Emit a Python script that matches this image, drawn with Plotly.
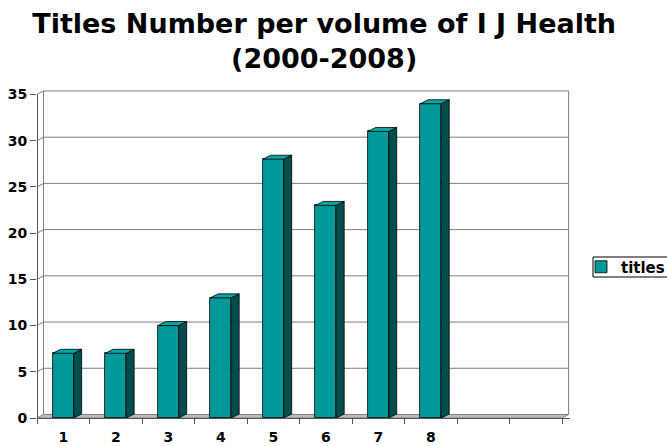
import plotly.graph_objects as go

# ---- data ----
volumes = [1, 2, 3, 4, 5, 6, 7, 8]
titles = [7, 7, 10, 13, 28, 23, 31, 34]
x_labels = ["1", "2", "3", "4", "5", "6", "7", "8"]
n_slots = 10                      # category slots on the axis (9 and 10 empty)
y_ticks = [0, 5, 10, 15, 20, 25, 30, 35]
series_name = "titles"
title_text = "Titles Number per volume of I J Health<br>(2000-2008)"

# ---- style / geometry ----
FONT = "DejaVu Sans"
TEAL = "#009999"
TEAL_TOP = "#00A5A5"
TEAL_SIDE = "#004D4D"
GRID = "#7f7f7f"
bar_w = 0.4
dx_bar, dy_bar = 0.15, 0.43       # bar depth in data units
dx_wall, dy_wall = 0.124, 0.38    # back wall offset in data units
x_min, x_max = 0.5, n_slots + 0.65
y_max = 35.7
W, H = 667, 446
ML, MT, MB = 37, 88, 28
plot_w = round((x_max - x_min) * 52.5)
MR = W - ML - plot_w
plot_h = H - MT - MB

fig = go.Figure()

# front faces
fig.add_trace(go.Bar(
    x=volumes, y=titles, width=bar_w, name=series_name,
    marker=dict(color=TEAL, line=dict(color="black", width=0.8)),
    showlegend=True,
))

# side and top faces (3D effect), derived from the data
for xv, v in zip(volumes, titles):
    r = xv + bar_w / 2
    l = xv - bar_w / 2
    fig.add_trace(go.Scatter(
        x=[r, r + dx_bar, r + dx_bar, r, r],
        y=[0, dy_bar, v + dy_bar, v, 0],
        fill="toself", fillcolor=TEAL_SIDE, mode="lines",
        line=dict(color="black", width=0.8), showlegend=False, hoverinfo="skip",
    ))
    fig.add_trace(go.Scatter(
        x=[l, l + dx_bar, r + dx_bar, r, l],
        y=[v, v + dy_bar, v + dy_bar, v, v],
        fill="toself", fillcolor=TEAL_TOP, mode="lines",
        line=dict(color="black", width=0.8), showlegend=False, hoverinfo="skip",
    ))

shapes = []
x0w, x1w = 0.5 + dx_wall, n_slots + 0.5 + dx_wall
# floor
shapes.append(dict(type="path", xref="x", yref="y", layer="below",
                   path=f"M0.5,0 L{n_slots + 0.5},0 L{x1w},{dy_wall} L{x0w},{dy_wall} Z",
                   fillcolor="#bdbdbd", line=dict(color=GRID, width=1)))
# back wall gridlines (with left wall diagonal)
for t in y_ticks[1:]:
    shapes.append(dict(type="path", xref="x", yref="y", layer="below",
                       path=f"M0.5,{t} L{x0w},{t + dy_wall} L{x1w},{t + dy_wall}",
                       line=dict(color=GRID, width=1)))
# back wall vertical edges
shapes.append(dict(type="line", xref="x", yref="y", layer="below",
                   x0=x0w, x1=x0w, y0=dy_wall, y1=y_ticks[-1] + dy_wall,
                   line=dict(color=GRID, width=1)))
shapes.append(dict(type="line", xref="x", yref="y", layer="below",
                   x0=x1w, x1=x1w, y0=dy_wall, y1=y_ticks[-1] + dy_wall,
                   line=dict(color=GRID, width=1)))
# front y axis line
shapes.append(dict(type="line", xref="x", yref="y", layer="above",
                   x0=0.5, x1=0.5, y0=0, y1=y_ticks[-1],
                   line=dict(color="#555555", width=2)))
# legend frame (pixel box converted to paper coordinates)
lx0, lx1, ly0, ly1 = 593, 669, 257, 277
shapes.append(dict(type="rect", xref="paper", yref="paper", layer="above",
                   x0=(lx0 - ML) / plot_w, x1=(lx1 - ML) / plot_w,
                   y0=(H - MB - ly1) / plot_h, y1=(H - MB - ly0) / plot_h,
                   line=dict(color="black", width=1), fillcolor="rgba(0,0,0,0)"))

fig.update_layout(
    width=W, height=H,
    margin=dict(l=ML, r=MR, t=MT, b=MB, autoexpand=False),
    paper_bgcolor="white", plot_bgcolor="white",
    font=dict(family=FONT, color="black"),
    title=dict(text=title_text, x=0.486, xref="container", xanchor="center",
               y=0.926, yref="container", yanchor="top",
               font=dict(family=FONT, size=27, weight=700, color="black")),
    bargap=0,
    shapes=shapes,
    legend=dict(x=593 / W, xref="container", xanchor="left",
                y=(H - 267) / H, yref="container", yanchor="middle",
                borderwidth=0, bgcolor="rgba(0,0,0,0)",
                font=dict(family=FONT, size=15, weight=700), indentation=-12),
    showlegend=True,
)
fig.update_xaxes(range=[x_min, x_max], tickmode="array", tickvals=volumes, ticktext=x_labels,
                 ticks="", showgrid=False, zeroline=False, ticklabelstandoff=6,
                 showline=True, linecolor="#555555", linewidth=1,
                 tickfont=dict(family=FONT, size=14, weight=700),
                 minor=dict(tickmode="array", tickvals=[i + 0.5 for i in range(n_slots + 1)],
                            ticks="outside", ticklen=5, tickcolor="#555555", showgrid=False))
fig.update_yaxes(range=[0, y_max], tickmode="array", tickvals=y_ticks,
                 ticks="outside", ticklen=6, tickcolor="#555555",
                 showgrid=False, zeroline=False, showline=False,
                 tickfont=dict(family=FONT, size=14, weight=700))

fig.write_html("out.html")
